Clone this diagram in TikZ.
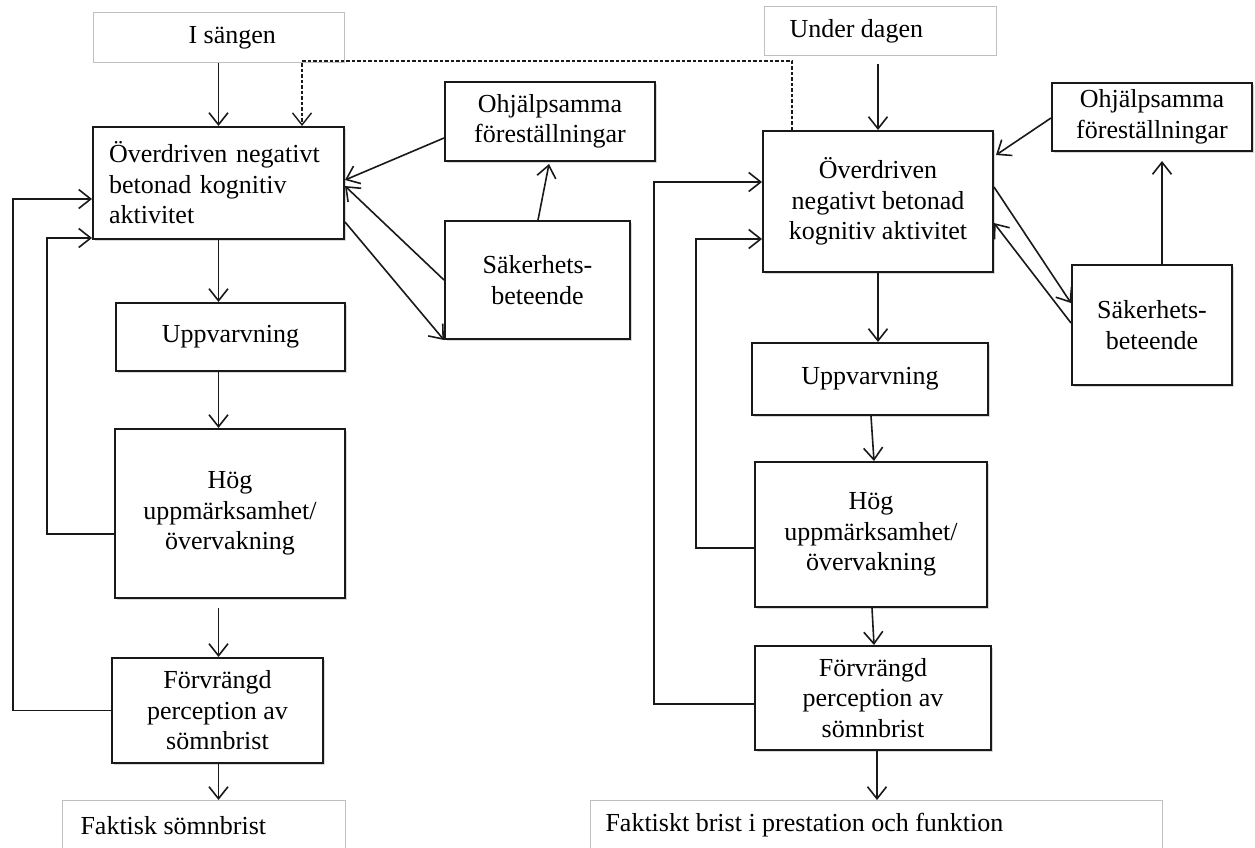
\documentclass[tikz,border=0pt]{standalone}
\usepackage{fontspec}
\setmainfont{Liberation Serif}
\usetikzlibrary{arrows.meta,calc,shadows}
\begin{document}
\begin{tikzpicture}[x=1pt,y=-1pt,
  box/.style={draw=black!90, line width=2pt, fill=white, inner sep=0pt, align=center,
    font=\fontsize{26}{30.5}\selectfont,
    drop shadow={opacity=0.3,shadow xshift=1.8pt,shadow yshift=-1.8pt}},
  gbox/.style={draw=black!25, line width=1pt, fill=white, inner sep=0pt, anchor=north west,
    font=\fontsize{26}{30.5}\selectfont},
  arr/.style={-{Straight Barb[length=12pt,width=19pt]}, line width=1.6pt, draw=black!90},
  darr/.style={arr, dash pattern=on 3.5pt off 2pt, line width=1.4pt}]
\fill[white] (0,0) rectangle (1255,847);
\useasboundingbox (0,0) rectangle (1255,847);

% ---- left column ----
\node[gbox, minimum height=50pt] (isangen) at (93,12) {\makebox[251pt][l]{\hspace{95pt}I sängen}};
\node[box, minimum width=251pt, minimum height=112pt, text width=219pt, align=left] (lmain) at (218.5,183)
  {Överdriven negativt\\betonad kognitiv\\aktivitet};
\node[box, minimum width=229pt, minimum height=68pt] (lupp) at (230.5,337) {Uppvarvning};
\node[box, minimum width=230pt, minimum height=169pt] (lhog) at (230,513.5) {Hög\\uppmärksamhet/\\övervakning};
\node[box, minimum width=211pt, minimum height=105pt] (lforv) at (217.5,710.5) {Förvrängd\\perception av\\sömnbrist};
\node[box, minimum width=210pt, minimum height=79pt] (lohj) at (550,121.5) {Ohjälpsamma\\föreställningar};
\node[box, minimum width=185pt, minimum height=118pt] (lsak) at (537.5,280) {Säkerhets-\\beteende};
\node[gbox, minimum height=50pt] (lfakt) at (62,800) {\makebox[283pt][l]{\hspace{18pt}Faktisk sömnbrist}};

% ---- right column ----
\node[gbox, minimum height=49pt] (udagen) at (764,6) {\makebox[232pt][l]{\hspace{25pt}Under dagen}};
\node[box, minimum width=230pt, minimum height=141pt] (rmain) at (878,201.5)
  {Överdriven\\negativt betonad\\kognitiv aktivitet};
\node[box, minimum width=236pt, minimum height=72pt] (rupp) at (870,379) {Uppvarvning};
\node[box, minimum width=232pt, minimum height=145pt] (rhog) at (871,534.5) {Hög\\uppmärksamhet/\\övervakning};
\node[box, minimum width=236pt, minimum height=104pt] (rforv) at (873,698) {Förvrängd\\perception av\\sömnbrist};
\node[box, minimum width=200pt, minimum height=68pt] (rohj) at (1152,117) {Ohjälpsamma\\föreställningar};
\node[box, minimum width=160pt, minimum height=120pt] (rsak) at (1152,325) {Säkerhets-\\beteende};
\node[gbox, minimum height=50pt] (rfakt) at (590,800) {\makebox[572pt][l]{\hspace{15pt}Faktiskt brist i prestation och funktion}};

% ---- dashed link ----
\coordinate (dR) at (792,61);
\coordinate (dL) at (302,61);
\draw[darr] (rmain.north -| dR) -- (dR) -- (dL) -- (lmain.north -| dL);

% ---- left connectors ----
\draw[arr] (isangen.south -| lmain.north) -- (lmain.north);
\draw[arr] (lmain.south) -- (lmain.south |- lupp.north);
\draw[arr] (lupp.south -| lmain.south) -- (lhog.north -| lmain.south);
\draw[arr, shorten <=9pt] (lhog.south -| lmain.south) -- (lforv.north -| lmain.south);
\draw[arr] (lforv.south -| lmain.south) -- (lfakt.north -| lmain.south);
\coordinate (lo) at (13,199);
\coordinate (li) at (47,238);
\coordinate (lib) at (47,534);
\draw[arr] (lforv.west) -| (lo) -- (lmain.west |- lo);
\draw[arr] (lhog.west |- lib) -- (lib) -- (li) -- (lmain.west |- li);
\draw[arr] ($(lohj.west)+(0,16.5)$) -- ($(lmain.east)+(0,-3)$);
\draw[arr] ($(lsak.north)+(0.5,0)$) -- ($(lohj.south)+(-1,2)$);
\draw[arr] (lsak.west) -- ($(lmain.east)+(0,3)$);
\draw[arr] ($(lmain.east)+(0,39)$) -- (lsak.south west);

% ---- right connectors ----
\draw[arr, shorten <=8pt] (rmain.north |- udagen.south) -- (rmain.north);
\draw[arr] (rmain.south) -- (rmain.south |- rupp.north);
\draw[arr] ($(rupp.south)+(1,0)$) -- ($(rhog.north)+(3,0)$);
\draw[arr] ($(rhog.south)+(1,0)$) -- ($(rforv.north)+(1,0)$);
\coordinate (rf) at ($(rforv.south)+(4,0)$);
\draw[arr] (rf) -- (rf |- rfakt.north);
\coordinate (ro) at (654,182);
\coordinate (rob) at (654,704);
\coordinate (ri) at (696,239);
\coordinate (rib) at (696,548);
\draw[arr] (rforv.west |- rob) -- (rob) -- (ro) -- (rmain.west |- ro);
\draw[arr] (rhog.west |- rib) -- (rib) -- (ri) -- (rmain.west |- ri);
\draw[arr] ($(rohj.west)+(0,1)$) -- ($(rmain.east)+(2,-46.5)$);
\coordinate (ru) at (1162,265);
\draw[arr, shorten >=9pt] (rsak.north -| ru) -- (rohj.south -| ru);
\draw[arr] ($(rmain.east)+(0,-14.5)$) -- ($(rsak.west)+(0,-22)$);
\draw[arr] ($(rsak.west)+(0,-2)$) -- ($(rmain.east)+(0,21.5)$);
\end{tikzpicture}
\end{document}
